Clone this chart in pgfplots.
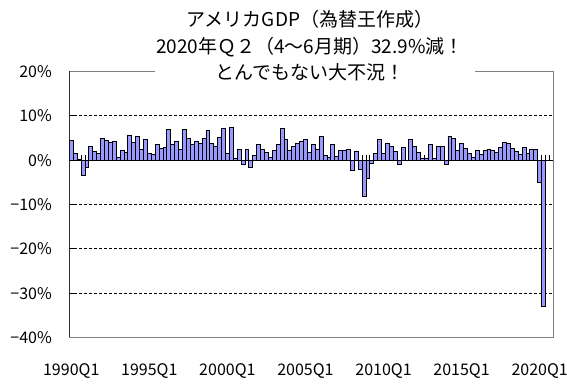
\documentclass[border=0pt]{standalone}
\usepackage{pgfplots}
\usepackage{pgfplotstable}
\pgfplotsset{compat=1.18}
\usepackage{fontspec}
\setmainfont{Noto Sans CJK JP}
\definecolor{barblue}{RGB}{153,153,255}
\pgfplotstableread{
g
4.5
1.6
0.2
-3.5
-1.7
3.1
2.0
1.6
4.9
4.5
4.0
4.2
0.7
2.3
1.8
5.6
4.0
5.3
2.5
4.7
1.6
1.3
3.6
2.7
2.9
6.9
3.6
4.2
2.4
6.9
4.9
3.6
4.2
3.8
4.9
6.7
3.8
3.2
5.1
7.1
1.6
7.3
0.5
2.4
-0.9
2.4
-1.6
1.1
3.6
2.4
1.8
0.7
2.2
3.6
7.1
4.7
2.2
3.1
3.8
4.2
4.7
1.8
3.6
2.4
5.3
1.0
0.7
3.6
0.9
2.2
2.2
2.4
-2.2
2.0
-2.0
-8.2
-4.2
-0.7
1.6
4.7
1.6
3.8
3.1
2.0
-0.9
2.9
-0.1
4.7
3.1
1.8
0.5
0.5
3.6
0.5
3.1
3.1
-0.9
5.3
4.9
2.2
3.8
2.7
1.6
0.7
2.2
1.3
2.2
2.4
2.2
1.8
2.9
4.0
3.8
2.7
2.0
1.3
2.9
1.6
2.4
2.4
-5.0
-32.9
}\gdpdata
\begin{document}
\begin{tikzpicture}
\useasboundingbox (0,0) rectangle (567pt,390pt);
% zero line with category tick marks
\begin{axis}[
  at={(69.3pt,52.5pt)}, anchor=south west,
  scale only axis, width=484pt, height=266pt,
  xmin=-0.5, xmax=123.5, ymin=-40, ymax=20,
  axis x line=middle, axis y line=none,
  x axis line style={-, black, line width=0.8pt},
  xtick={-0.5,0.5,...,123.5}, xticklabels={},
  xtick align=inside, major tick length=5.3pt,
  xtick style={black, line width=0.8pt},
]
\addplot[draw=none] coordinates {(0,0)};
\end{axis}
% main axis
\begin{axis}[
  at={(69.3pt,52.5pt)}, anchor=south west,
  scale only axis, width=484pt, height=266pt,
  xmin=-0.5, xmax=123.5, ymin=-40, ymax=20,
  axis line style={draw=gray, line width=0.8pt},
  ytick={-40,-30,...,20},
  yticklabels={−40\%,−30\%,−20\%,−10\%,0\%,10\%,20\%},
  ytick pos=left, ytick align=inside, major tick length=7pt,
  ytick style={black, line width=0.8pt},
  xtick={0,20,...,120},
  xticklabels={1990Q1,1995Q1,2000Q1,2005Q1,2010Q1,2015Q1,2020Q1},
  xtick pos=bottom, xtick align=inside, xtick style={draw=none},
  xticklabel style={anchor=base, yshift=-38.5pt, inner sep=0pt},
  yticklabel style={anchor=east, xshift=-17.3pt, inner sep=0pt},
  tick label style={font=\fontsize{16}{16}\selectfont},
  extra y ticks={-30,-20,-10,10}, extra y tick labels={},
  extra y tick style={grid=major, major grid style={black, dash pattern=on 3pt off 2pt, line width=0.8pt}},
]
\addplot[ybar, bar width=1, fill=barblue, draw=black, line width=0.8pt]
  table[x expr=\coordindex, y=g] {\gdpdata};
\draw[black, line width=0.8pt] (rel axis cs:0,0) -- (rel axis cs:0,1);
\end{axis}
\fill[white] (155pt,302pt) rectangle (475pt,389pt);
\node[align=center, inner sep=0pt, font=\fontsize{19}{26.5}\selectfont] at (310pt,344pt)
  {アメリカGDP（為替王作成）\\2020年Ｑ２（4～6月期）32.9\%減！\\とんでもない大不況！};
\end{tikzpicture}
\end{document}
